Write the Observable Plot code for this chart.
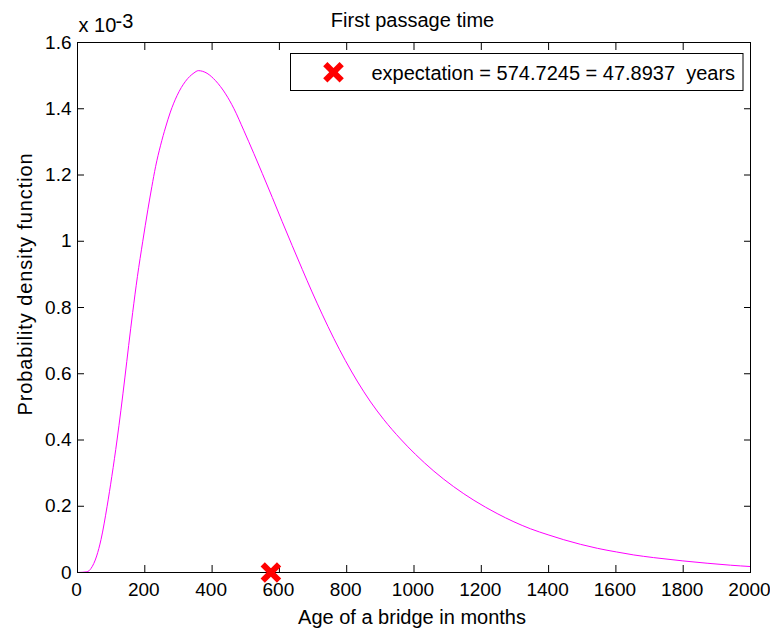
<!DOCTYPE html>
<html>
<head>
<meta charset="utf-8">
<script src="https://cdn.jsdelivr.net/npm/d3@7"></script>
<script src="https://cdn.jsdelivr.net/npm/@observablehq/plot@0.6"></script>
<style>
  html, body { margin: 0; padding: 0; background: #ffffff; }
  #chart { width: 770px; height: 629px; }
</style>
</head>
<body>
<div id="chart"></div>
<script>
// ---- data ----
const chartTitle = "First passage time";
const xLabel = "Age of a bridge in months";
const yLabel = "Probability density function";
const yExponentBase = "x 10";
const yExponent = "-3";

// age in months
const months = [0, 28, 40, 57, 70, 88, 102, 117.5, 129, 141, 152, 164, 178, 194,
  209, 221, 232, 247, 262, 276, 296, 321, 346, 359, 385, 410, 440, 465, 494, 524,
  549, 579, 608, 638, 668, 697, 727, 762, 796, 831, 871, 910, 960, 1004, 1059,
  1118, 1178, 1247, 1297, 1346, 1401, 1445, 1495, 1545, 1602, 1653, 1712, 1799,
  1871, 1941, 2000];
// probability density, in units of 1e-3
const pdf = [0, 0.002, 0.012, 0.05, 0.10, 0.20, 0.29, 0.40, 0.49, 0.59, 0.685, 0.785,
  0.893, 1.00, 1.095, 1.165, 1.225, 1.29, 1.345, 1.39, 1.44, 1.483, 1.508, 1.515,
  1.507, 1.485, 1.445, 1.40, 1.335, 1.265, 1.205, 1.132, 1.060, 0.987, 0.915, 0.847,
  0.780, 0.706, 0.640, 0.578, 0.515, 0.462, 0.403, 0.357, 0.306, 0.259, 0.218,
  0.178, 0.153, 0.132, 0.113, 0.099, 0.085, 0.073, 0.062, 0.053, 0.045, 0.035,
  0.028, 0.022, 0.018];

const expectationMonths = 574.7245;
const expectationYears = 47.8937;
const legendText = "expectation = 574.7245 = 47.8937  years";

const xTicks = [0, 200, 400, 600, 800, 1000, 1200, 1400, 1600, 1800, 2000];
const yTicks = [0, 0.2, 0.4, 0.6, 0.8, 1, 1.2, 1.4, 1.6];

// ---- build ----
const curve = months.map((m, i) => ({month: m, value: pdf[i]}));
const marker = [{month: expectationMonths, value: 0}];
const fmt = d3.format("~g");
const FONT = "'Liberation Sans', Arial, Helvetica, sans-serif";

const chart = Plot.plot({
  width: 770,
  height: 629,
  marginLeft: 77,
  marginRight: 20,
  marginTop: 42,
  marginBottom: 57,
  style: {fontFamily: FONT, fontSize: "19px", color: "#000", background: "#fff", overflow: "visible"},
  x: {domain: [0, 2000], ticks: xTicks, label: null},
  y: {domain: [0, 1.6], ticks: yTicks, label: null},
  marks: [
    // tick labels
    Plot.axisX(xTicks, {anchor: "bottom", tickSize: 0, tickPadding: 10, dx: -1, label: null, tickFormat: d => String(d), fontSize: 19, fill: "#000"}),
    Plot.axisY(yTicks, {anchor: "left", tickSize: 0, tickPadding: 6, label: null, tickFormat: fmt, fontSize: 19, fill: "#000"}),
    // inward ticks on all four sides
    Plot.axisX(xTicks, {anchor: "bottom", tickSize: -7, text: null, label: null, stroke: "#000"}),
    Plot.axisX(xTicks, {anchor: "top", tickSize: -7, text: null, label: null, stroke: "#000"}),
    Plot.axisY(yTicks, {anchor: "left", tickSize: -7, text: null, label: null, stroke: "#000"}),
    Plot.axisY(yTicks, {anchor: "right", tickSize: -7, text: null, label: null, stroke: "#000"}),
    // curve
    Plot.line(curve, {x: "month", y: "value", stroke: "#ff00ff", strokeWidth: 1, curve: "monotone-x"}),
    // frame
    Plot.frame({stroke: "#000", strokeWidth: 1}),
    // expectation marker
    Plot.dot(marker, {x: "month", y: "value", symbol: "times", r: 7.5, stroke: "#ff0000", strokeWidth: 6, fill: "none"}),
    // legend box
    Plot.frame({insetLeft: 213, insetRight: 7.5, insetTop: 11, insetBottom: 482, stroke: "#000", fill: "#fff", strokeWidth: 1}),
    Plot.dot([expectationMonths], {frameAnchor: "top-left", dx: 256, dy: 29.7, symbol: "times", r: 7.5, stroke: "#ff0000", strokeWidth: 6, fill: "none"}),
    Plot.text([legendText], {frameAnchor: "top-left", dx: 294, dy: 37.3, text: d => d, textAnchor: "start", lineAnchor: "bottom", fontSize: 20, fill: "#000"}),
    // title
    Plot.text([chartTitle], {frameAnchor: "top", dx: -1.5, dy: -15.3, text: d => d, textAnchor: "middle", lineAnchor: "bottom", fontSize: 20, fill: "#000"}),
    // exponent label
    Plot.text([yExponentBase], {frameAnchor: "top-left", dx: 1, dy: -10.5, text: d => d, textAnchor: "start", lineAnchor: "bottom", fontSize: 20, fill: "#000"}),
    Plot.text([yExponent], {frameAnchor: "top-left", dx: 38, dy: -14.2, text: d => d, textAnchor: "start", lineAnchor: "bottom", fontSize: 20, fill: "#000"}),
    // axis labels
    Plot.text([xLabel], {frameAnchor: "bottom", dx: -2, dy: 51, text: d => d, textAnchor: "middle", lineAnchor: "bottom", fontSize: 20, fill: "#000"}),
    Plot.text([yLabel], {frameAnchor: "left", dx: -52.2, dy: -23.5, rotate: -90, text: d => d, textAnchor: "middle", lineAnchor: "middle", fontSize: 20, fill: "#000"})
  ]
});

d3.select(chart).selectAll("text")
  .filter(function() { return this.textContent === yLabel; })
  .style("letter-spacing", "0.9px");
document.getElementById("chart").appendChild(chart);
</script>
</body>
</html>
